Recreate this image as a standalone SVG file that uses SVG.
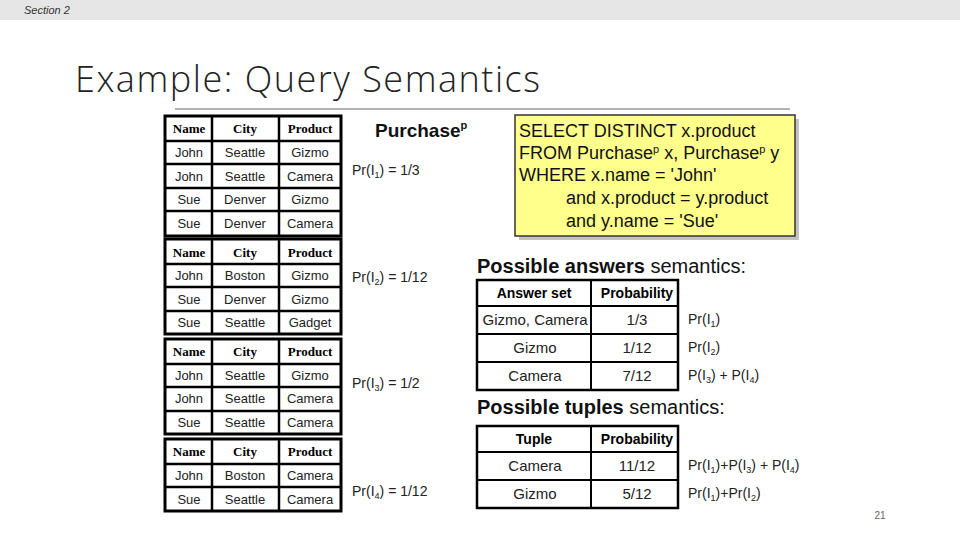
<svg xmlns="http://www.w3.org/2000/svg" width="960" height="540" viewBox="0 0 960 540">
<style>
.c{fill:#fff;stroke:#000;stroke-width:2}
.o{fill:none;stroke:#000;stroke-width:3}
.h{font-family:"Liberation Serif",serif;font-weight:bold;font-size:13px;text-anchor:middle}
.t{font-family:"Liberation Sans",sans-serif;font-size:13px;text-anchor:middle;fill:#222}
.a{font-family:"Liberation Sans",sans-serif;font-size:15px;text-anchor:middle;fill:#222}
.p{font-family:"Liberation Sans",sans-serif;font-size:14px;fill:#222}
.hb{font-family:"Liberation Sans",sans-serif;font-weight:bold;font-size:14px;text-anchor:middle}
.q{font-family:"Liberation Sans",sans-serif;font-size:18px;fill:#111}
.big{font-family:"Liberation Sans",sans-serif;font-size:20px;fill:#111}
</style>
<rect width="960" height="540" fill="#fff"/>
<rect width="960" height="20" fill="#e6e6e6"/>
<text x="24" y="14" font-family="Liberation Sans,sans-serif" font-style="italic" font-size="11" fill="#333">Section 2</text>
<text x="75" y="92" font-family="Open Sans,sans-serif" font-size="36" font-weight="300" fill="#222" textLength="465">Example: Query Semantics</text>
<line x1="175" y1="109" x2="790" y2="109" stroke="#999" stroke-width="1.5"/>

<g id="world1">
<rect class="c" x="165" y="116" width="176" height="120"/>
<path d="M165 141H341M165 164H341M165 188H341M165 211H341M212 116V236M279 116V236" stroke="#000" stroke-width="2.5"/>
<rect class="o" x="165" y="116" width="176" height="120"/>
<text class="h" x="189" y="133">Name</text><text class="h" x="245" y="133">City</text><text class="h" x="310" y="133">Product</text>
<text class="t" x="189" y="157">John</text><text class="t" x="245" y="157">Seattle</text><text class="t" x="310" y="157">Gizmo</text>
<text class="t" x="189" y="181">John</text><text class="t" x="245" y="181">Seattle</text><text class="t" x="310" y="181">Camera</text>
<text class="t" x="189" y="204">Sue</text><text class="t" x="245" y="204">Denver</text><text class="t" x="310" y="204">Gizmo</text>
<text class="t" x="189" y="228">Sue</text><text class="t" x="245" y="228">Denver</text><text class="t" x="310" y="228">Camera</text>
<text class="p" x="352" y="175">Pr(I<tspan font-size="9" dy="3">1</tspan><tspan dy="-3">) = 1/3</tspan></text>
</g>
<g id="world2">
<rect class="c" x="165" y="239" width="176" height="95"/>
<path d="M165 264H341M165 287H341M165 311H341M212 239V334M279 239V334" stroke="#000" stroke-width="2.5"/>
<rect class="o" x="165" y="239" width="176" height="95"/>
<text class="h" x="189" y="257">Name</text><text class="h" x="245" y="257">City</text><text class="h" x="310" y="257">Product</text>
<text class="t" x="189" y="280">John</text><text class="t" x="245" y="280">Boston</text><text class="t" x="310" y="280">Gizmo</text>
<text class="t" x="189" y="304">Sue</text><text class="t" x="245" y="304">Denver</text><text class="t" x="310" y="304">Gizmo</text>
<text class="t" x="189" y="327">Sue</text><text class="t" x="245" y="327">Seattle</text><text class="t" x="310" y="327">Gadget</text>
<text class="p" x="352" y="282">Pr(I<tspan font-size="9" dy="3">2</tspan><tspan dy="-3">) = 1/12</tspan></text>
</g>
<g id="world3">
<rect class="c" x="165" y="339" width="176" height="95"/>
<path d="M165 364H341M165 387H341M165 411H341M212 339V434M279 339V434" stroke="#000" stroke-width="2.5"/>
<rect class="o" x="165" y="339" width="176" height="95"/>
<text class="h" x="189" y="356">Name</text><text class="h" x="245" y="356">City</text><text class="h" x="310" y="356">Product</text>
<text class="t" x="189" y="380">John</text><text class="t" x="245" y="380">Seattle</text><text class="t" x="310" y="380">Gizmo</text>
<text class="t" x="189" y="403">John</text><text class="t" x="245" y="403">Seattle</text><text class="t" x="310" y="403">Camera</text>
<text class="t" x="189" y="427">Sue</text><text class="t" x="245" y="427">Seattle</text><text class="t" x="310" y="427">Camera</text>
<text class="p" x="352" y="388">Pr(I<tspan font-size="9" dy="3">3</tspan><tspan dy="-3">) = 1/2</tspan></text>
</g>
<g id="world4">
<rect class="c" x="165" y="439" width="176" height="72"/>
<path d="M165 464H341M165 487H341M212 439V511M279 439V511" stroke="#000" stroke-width="2.5"/>
<rect class="o" x="165" y="439" width="176" height="72"/>
<text class="h" x="189" y="456">Name</text><text class="h" x="245" y="456">City</text><text class="h" x="310" y="456">Product</text>
<text class="t" x="189" y="480">John</text><text class="t" x="245" y="480">Boston</text><text class="t" x="310" y="480">Camera</text>
<text class="t" x="189" y="504">Sue</text><text class="t" x="245" y="504">Seattle</text><text class="t" x="310" y="504">Camera</text>
<text class="p" x="352" y="496">Pr(I<tspan font-size="9" dy="3">4</tspan><tspan dy="-3">) = 1/12</tspan></text>
</g>

<text x="375" y="137" font-family="Liberation Sans,sans-serif" font-weight="bold" font-size="19" fill="#111">Purchase<tspan font-size="11" dy="-8">p</tspan></text>

<g id="query">
<rect x="519" y="119" width="280" height="121" fill="#888" opacity="0.5"/>
<rect x="515" y="115" width="280" height="121" fill="#ffff8c" stroke="#333" stroke-width="1.5"/>
<text class="q" x="519" y="137">SELECT DISTINCT x.product</text>
<text class="q" x="519" y="159">FROM Purchase<tspan font-size="11" dy="-6">p</tspan><tspan dy="6"> x, Purchase</tspan><tspan font-size="11" dy="-6">p</tspan><tspan dy="6"> y</tspan></text>
<text class="q" x="519" y="181">WHERE x.name = 'John'</text>
<text class="q" x="566" y="204">and x.product = y.product</text>
<text class="q" x="566" y="227">and y.name = 'Sue'</text>
</g>

<text class="big" x="477" y="273"><tspan font-weight="bold">Possible answers</tspan> semantics:</text>
<g id="answers">
<rect x="477" y="280" width="201" height="110" fill="#fff" stroke="#000" stroke-width="2.5"/>
<path d="M477 306H678M477 334H678M477 362H678M591 280V390" stroke="#000" stroke-width="2"/>
<text class="hb" x="534" y="298">Answer set</text><text class="hb" x="637" y="298">Probability</text>
<text class="a" x="535" y="325">Gizmo, Camera</text><text class="a" x="637" y="325">1/3</text>
<text class="a" x="535" y="353">Gizmo</text><text class="a" x="637" y="353">1/12</text>
<text class="a" x="535" y="381">Camera</text><text class="a" x="637" y="381">7/12</text>
<text class="p" x="688" y="324">Pr(I<tspan font-size="9" dy="3">1</tspan><tspan dy="-3">)</tspan></text>
<text class="p" x="688" y="352">Pr(I<tspan font-size="9" dy="3">2</tspan><tspan dy="-3">)</tspan></text>
<text class="p" x="688" y="380">P(I<tspan font-size="9" dy="3">3</tspan><tspan dy="-3">) + P(I</tspan><tspan font-size="9" dy="3">4</tspan><tspan dy="-3">)</tspan></text>
</g>

<text class="big" x="477" y="414"><tspan font-weight="bold">Possible tuples</tspan> semantics:</text>
<g id="tuples">
<rect x="477" y="426" width="201" height="82" fill="#fff" stroke="#000" stroke-width="2.5"/>
<path d="M477 452H678M477 480H678M591 426V508" stroke="#000" stroke-width="2"/>
<text class="hb" x="534" y="444">Tuple</text><text class="hb" x="637" y="444">Probability</text>
<text class="a" x="535" y="471">Camera</text><text class="a" x="637" y="471">11/12</text>
<text class="a" x="535" y="499">Gizmo</text><text class="a" x="637" y="499">5/12</text>
<text class="p" x="688" y="470">Pr(I<tspan font-size="9" dy="3">1</tspan><tspan dy="-3">)+P(I</tspan><tspan font-size="9" dy="3">3</tspan><tspan dy="-3">) + P(I</tspan><tspan font-size="9" dy="3">4</tspan><tspan dy="-3">)</tspan></text>
<text class="p" x="688" y="498">Pr(I<tspan font-size="9" dy="3">1</tspan><tspan dy="-3">)+Pr(I</tspan><tspan font-size="9" dy="3">2</tspan><tspan dy="-3">)</tspan></text>
</g>
<text x="880" y="519" font-family="Liberation Sans,sans-serif" font-size="10" fill="#666" text-anchor="middle">21</text>
</svg>
